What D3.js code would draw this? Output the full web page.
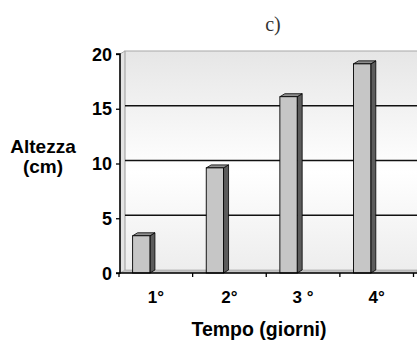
<!DOCTYPE html>
<html><head><meta charset="utf-8">
<script src="https://cdn.jsdelivr.net/npm/d3@7"></script>
<style>body{margin:0;background:#fff}svg{display:block}</style>
</head><body>
<svg id="c" width="417" height="340"></svg>
<script>
const categories = ["1°", "2°", "3 °", "4°"];
const values = [3.4, 9.6, 16.1, 19.1];
const yTicks = [0, 5, 10, 15, 20];

const svg = d3.select("#c");
const font = "'Liberation Sans', Arial, sans-serif";
const dx = 5, dy = -3;
const x = d3.scaleBand().domain(categories).range([119, 413.5]);
const y = d3.scaleLinear().domain([0, 20]).range([273, 54]);
const right = 417;

// gradient for back wall
const defs = svg.append("defs");
const g = defs.append("linearGradient").attr("id", "wall").attr("x1", 0).attr("y1", 0).attr("x2", 0).attr("y2", 1);
g.append("stop").attr("offset", "0").attr("stop-color", "#e6e6e6");
g.append("stop").attr("offset", "0.55").attr("stop-color", "#ffffff");
g.append("stop").attr("offset", "1").attr("stop-color", "#ededed");

// back wall
svg.append("rect").attr("x", 120 + dx).attr("y", y(20) + dy)
  .attr("width", right - 120 - dx).attr("height", y(0) - y(20))
  .attr("fill", "url(#wall)");
// side wall strip
svg.append("path").attr("d", `M120,${y(0)}V${y(20)}L${120 + dx},${y(20) + dy}V${y(0) + dy}Z`)
  .attr("fill", "#e4e4e4");
svg.append("path").attr("d", `M${120 + dx},${y(0) + dy}V${y(20) + dy}H${right}`)
  .attr("fill", "none").attr("stroke", "#a8a8a8").attr("stroke-width", 1.2);
svg.append("line").attr("x1", 120).attr("y1", y(20)).attr("x2", 120 + dx).attr("y2", y(20) + dy)
  .attr("stroke", "#a8a8a8").attr("stroke-width", 1);

// gridlines on back wall
svg.selectAll(".grid").data(yTicks.filter(d => d > 0 && d < 20)).join("line")
  .attr("x1", 120 + dx).attr("x2", right)
  .attr("y1", d => y(d) + dy).attr("y2", d => y(d) + dy)
  .attr("stroke", "#111").attr("stroke-width", 1.5);

// floor
svg.append("path").attr("d", `M120,${y(0)}L${120 + dx},${y(0) + dy}H${right}V${y(0)}Z`)
  .attr("fill", "#c4c4c4").attr("stroke", "#a0a0a0").attr("stroke-width", 0.6);

// bars
const bw = x.bandwidth();
const bars = svg.selectAll(".bar").data(values).join("g");
bars.each(function(v, i) {
  const gg = d3.select(this);
  const x0 = x(categories[i]) + bw * 0.185;
  const w = bw * 0.235;
  const yt = y(v), yb = y(0);
  gg.append("path").attr("d", `M${x0 + w},${yb}V${yt}L${x0 + w + dx},${yt + dy}V${yb + dy}L${x0 + w},${yb}Z`)
    .attr("fill", "#5c5c5c").attr("stroke", "#000").attr("stroke-width", 0.8);
  gg.append("path").attr("d", `M${x0},${yt}L${x0 + dx},${yt + dy}H${x0 + w + dx}L${x0 + w},${yt}Z`)
    .attr("fill", "#8e8e8e").attr("stroke", "#000").attr("stroke-width", 0.8);
  gg.append("rect").attr("x", x0).attr("y", yt).attr("width", w).attr("height", yb - yt)
    .attr("fill", "#c6c6c6").attr("stroke", "#000").attr("stroke-width", 0.9);
});

// y axis
const yAxis = d3.axisLeft(y).tickValues(yTicks).tickSize(4).tickPadding(4);
const ya = svg.append("g").attr("transform", "translate(120,0)").call(yAxis);
ya.select(".domain").attr("stroke", "#000").attr("stroke-width", 1.6).attr("d", `M-4,${y(20)}H0V${y(0)}H-4`);
ya.selectAll(".tick line").attr("stroke", "#000").attr("stroke-width", 1.3);
ya.selectAll(".tick text").attr("font-family", font).attr("font-weight", "bold").attr("font-size", 18)
  .attr("dy", "0.34em").attr("fill", "#000");

// x axis
const xAxis = d3.axisBottom(x).tickSize(0).tickPadding(18);
const xa = svg.append("g").attr("transform", `translate(0,${y(0)})`).call(xAxis);
xa.select(".domain").attr("stroke", "#000").attr("stroke-width", 1.6).attr("d", `M119,0H${right}`);
xa.selectAll(".tick text").attr("font-family", font).attr("font-weight", "bold").attr("font-size", 17).attr("fill", "#000");
const bounds = categories.map(c => x(c)).concat([x.range()[1]]);
svg.selectAll(".xt").data(bounds).join("line")
  .attr("x1", d => d).attr("x2", d => d).attr("y1", y(0)).attr("y2", y(0) + 4)
  .attr("stroke", "#000").attr("stroke-width", 1.3);

// titles
svg.append("text").attr("x", 273).attr("y", 31).attr("text-anchor", "middle")
  .attr("font-family", "'Liberation Serif', 'DejaVu Serif', serif").attr("font-size", 20).attr("fill", "#333").text("c)");
svg.append("text").attr("x", 43).attr("y", 153).attr("text-anchor", "middle")
  .attr("font-family", font).attr("font-weight", "bold").attr("font-size", 19).text("Altezza");
svg.append("text").attr("x", 43).attr("y", 173).attr("text-anchor", "middle")
  .attr("font-family", font).attr("font-weight", "bold").attr("font-size", 19).text("(cm)");
svg.append("text").attr("x", 259).attr("y", 336).attr("text-anchor", "middle")
  .attr("font-family", font).attr("font-weight", "bold").attr("font-size", 19.5).text("Tempo (giorni)");
</script>
</body></html>
